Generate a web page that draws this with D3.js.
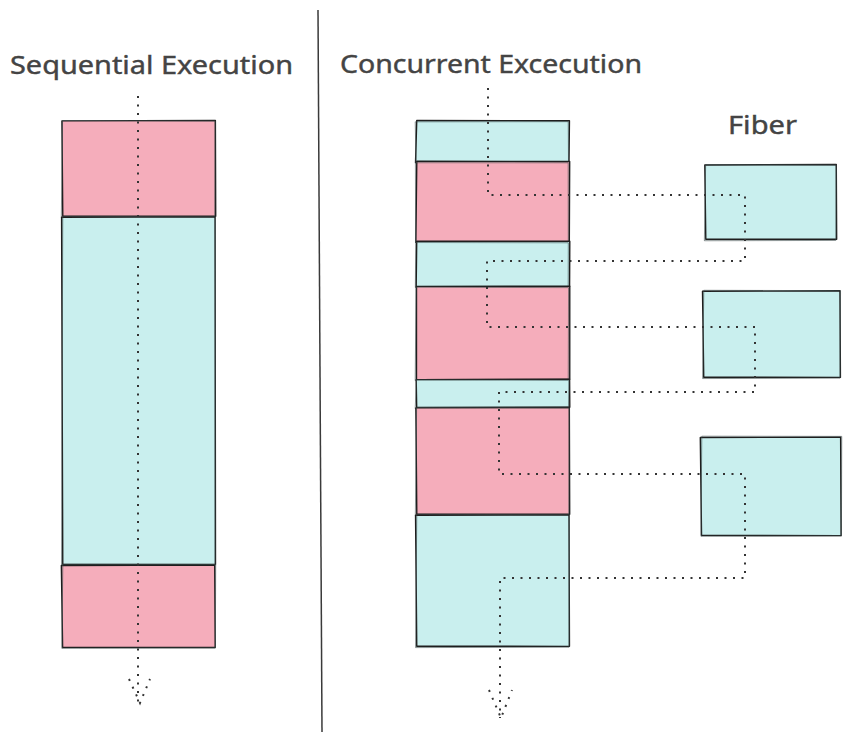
<!DOCTYPE html>
<html><head><meta charset="utf-8">
<script src="https://cdn.jsdelivr.net/npm/d3@7"></script>
<style>html,body{margin:0;padding:0;background:#fff}svg{display:block}</style>
</head><body>
<script>
// ---- data ----
const titles = ["Sequential Execution", "Concurrent Excecution"];
const fiberLabel = "Fiber";
// segments: [kind, duration]
const sequentialKinds = ["blocking", "work", "blocking"];
const sequentialDurations = [96, 348, 83];
const concurrentKinds = ["work", "blocking", "work", "blocking", "work", "blocking", "work"];
const concurrentDurations = [41, 80, 45, 93, 28, 107, 132];
// fibers: start / end in the same time units as the concurrent column
const fiberStarts = [44, 170, 316];
const fiberEnds = [119, 257, 415];
// times at which control hops between main flow and a fiber
const hopTimes = [74, 140, 206, 271, 353, 457];

// ---- layout ----
const W = 851, H = 743;
const colors = {blocking: "#f5adbb", work: "#c9efee"};
const stroke = "#1e1e1e";
const svg = d3.select("body").append("svg").attr("width", W).attr("height", H);

const ySeq = d3.scaleLinear().domain([0, d3.sum(sequentialDurations)]).range([121, 648]);
const yCon = d3.scaleLinear().domain([0, d3.sum(concurrentDurations)]).range([121, 647]);

const seqX = [62, 215], conX = [416, 569], fibX = [703, 839];

function segs(durs, kinds) {
  let t = 0;
  return durs.map((d, i) => { const s = {kind: kinds[i], t0: t, t1: t + d}; t += d; return s; });
}

function sketchRect(g, x0, x1, y0, y1, fill, seed) {
  const j = (k) => Math.sin(seed * 12.9898 + k * 78.233) * 0.8;
  g.append("rect").attr("x", x0).attr("y", y0).attr("width", x1 - x0).attr("height", y1 - y0)
    .attr("fill", fill);
  const p1 = d3.path();
  p1.moveTo(x0 + j(1), y0 + j(2)); p1.lineTo(x1 + j(3), y0 + j(4));
  p1.lineTo(x1 + j(5), y1 + j(6)); p1.lineTo(x0 + j(7), y1 + j(8)); p1.closePath();
  g.append("path").attr("d", p1.toString()).attr("fill", "none").attr("stroke", stroke)
    .attr("stroke-width", 1.4).attr("stroke-linejoin", "round");
  const p2 = d3.path();
  p2.moveTo(x0 + j(9), y0 + j(10)); p2.lineTo(x1 + j(11), y0 + j(12));
  p2.lineTo(x1 + j(13), y1 + j(14)); p2.lineTo(x0 + j(15), y1 + j(16)); p2.closePath();
  g.append("path").attr("d", p2.toString()).attr("fill", "none").attr("stroke", "#3a4a4a")
    .attr("stroke-opacity", 0.6).attr("stroke-width", 1);
}

// divider
svg.append("line").attr("x1", 318).attr("y1", 10).attr("x2", 322).attr("y2", 732)
  .attr("stroke", "#3a3a3a").attr("stroke-width", 1.5);

// titles
const font = "'Comic Sans MS', 'Noto Sans', sans-serif";
function label(x, y, txt, len) {
  svg.append("text").attr("x", x).attr("y", y).text(txt)
    .attr("font-family", font).attr("font-size", 25).attr("fill", "#444")
    .attr("stroke", "#444").attr("stroke-width", 0.4)
    .attr("textLength", len).attr("lengthAdjust", "spacingAndGlyphs");
}
label(10, 74, titles[0], 283);
label(340, 73, titles[1], 302);
label(728, 134, fiberLabel, 69);

// sequential blocks
const gSeq = svg.append("g");
segs(sequentialDurations, sequentialKinds).forEach((s, i) =>
  sketchRect(gSeq, seqX[0], seqX[1], ySeq(s.t0), ySeq(s.t1), colors[s.kind], i + 1));

// concurrent blocks
const gCon = svg.append("g");
segs(concurrentDurations, concurrentKinds).forEach((s, i) =>
  sketchRect(gCon, conX[0], conX[1], yCon(s.t0), yCon(s.t1), colors[s.kind], i + 11));

// fibers
const gFib = svg.append("g");
fiberStarts.forEach((t0, i) =>
  sketchRect(gFib, fibX[0] + [2, 0, -2][i], fibX[1] + [-3, 1, 2][i], yCon(t0), yCon(fiberEnds[i]), colors.work, i + 31));

// dotted flows
const dot = {stroke: "#333", "stroke-width": 2, "stroke-dasharray": "2 6.5", fill: "none", "stroke-linecap": "butt"};
function dotted(d) {
  const p = svg.append("path").attr("d", d);
  Object.entries(dot).forEach(([k, v]) => p.attr(k, v));
  return p;
}
// sequential arrow
const sx = 138;
dotted(`M${sx},96 L${sx},703`);
dotted(`M${sx - 9},679 L${sx + 2},703 L${sx + 12},679`);

// concurrent flow
const mainXs = [488, 487, 499, 500];
const fibXs = [745, 755, 745];
let d = `M${mainXs[0]},88`;
hopTimes.forEach((t, i) => {
  const y = yCon(t);
  if (i % 2 === 0) {
    d += ` L${mainXs[i / 2]},${y} L${fibXs[i / 2]},${y}`;
  } else {
    d += ` L${fibXs[(i - 1) / 2]},${y} L${mainXs[(i + 1) / 2]},${y}`;
  }
});
d += ` L${mainXs[3]},718`;
dotted(d);
dotted(`M${mainXs[3] - 11},690 L${mainXs[3] + 1},718 L${mainXs[3] + 12},690`);
</script>
</body></html>
